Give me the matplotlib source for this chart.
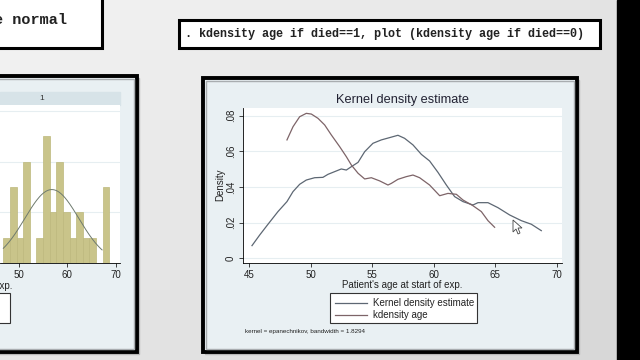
import numpy as np
import matplotlib.pyplot as plt
from matplotlib.patches import Rectangle, Polygon

plt.rcParams['font.family'] = ['Liberation Sans', 'DejaVu Sans']

# kdensity age if died==1  (first curve, "Kernel density estimate")
age1 = [45.24, 45.87, 46.54, 47.35, 48.08, 48.57, 49.11, 49.65, 50.33, 51.0, 51.41,
        51.95, 52.49, 52.90, 53.31, 53.85, 54.39, 55.06, 55.74, 56.42, 57.09, 57.63,
        58.31, 58.99, 59.66, 60.34, 61.02, 61.69, 62.37, 63.18, 63.59, 64.40, 65.21,
        66.16, 67.11, 67.92, 68.73]
dens1 = [0.0071, 0.0131, 0.0191, 0.0262, 0.0318, 0.0374, 0.0415, 0.0439, 0.0452, 0.0454, 0.0471,
         0.0486, 0.0501, 0.0495, 0.0514, 0.0538, 0.0598, 0.0645, 0.0664, 0.0677, 0.0690, 0.0673,
         0.0636, 0.0583, 0.0546, 0.0482, 0.0411, 0.0346, 0.0318, 0.0299, 0.0312, 0.0312, 0.0284,
         0.0243, 0.0211, 0.0191, 0.0155]

# kdensity age if died==0  (second curve, "kdensity age")
age0 = [48.08, 48.57, 49.11, 49.65, 50.06, 50.60, 51.14, 51.68, 52.36, 52.90, 53.31,
        53.85, 54.39, 54.93, 55.61, 56.28, 56.55, 57.09, 57.77, 58.31, 58.85, 59.66,
        60.48, 61.15, 61.83, 62.37, 63.18, 63.86, 64.40, 64.94]
dens0 = [0.0664, 0.0738, 0.0794, 0.0813, 0.0809, 0.0785, 0.0748, 0.0692, 0.0626, 0.0570, 0.0523,
         0.0477, 0.0445, 0.0452, 0.0434, 0.0411, 0.0420, 0.0443, 0.0458, 0.0467, 0.0452, 0.0411,
         0.0351, 0.0364, 0.0359, 0.0327, 0.0295, 0.0262, 0.0211, 0.0174]

# histogram panel "1" (cut off at left edge of slide)
bin_left = [46.76, 48.13, 49.50, 50.87, 52.24, 53.61, 54.98, 56.35, 57.72, 59.09, 60.46,
            61.83, 63.20, 64.57, 65.94, 67.31]
bin_count = [1, 3, 1, 4, 0, 1, 5, 2, 4, 2, 1, 2, 1, 1, 0, 3]
bin_width = 1.37
norm_mean, norm_sd, norm_peak = 56.8, 5.6, 2.9

legend_labels = ["Kernel density estimate", "kdensity age"]
yticks = [0, 0.02, 0.04, 0.06, 0.08]
ytick_labels = ["0", ".02", ".04", ".06", ".08"]

W, H = 640, 360
fig = plt.figure(figsize=(6.4, 3.6), dpi=100)

def fr(x0, y0, x1, y1):
    # pixel box -> figure fraction rect
    return [x0 / W, 1 - y1 / H, (x1 - x0) / W, (y1 - y0) / H]

# slide background in pixel coords
bg = fig.add_axes([0, 0, 1, 1], zorder=0)
bg.set_xlim(0, W)
bg.set_ylim(H, 0)
bg.axis('off')
gx, gy = np.meshgrid(np.linspace(0, 1, 64), np.linspace(0, 1, 36))
grad = 0.95 - 0.05 * gy - 0.06 * gx
bg.imshow(grad, cmap='gray', vmin=0, vmax=1, extent=[0, W, H, 0], aspect='auto')
bg.add_patch(Rectangle((617, 0), 30, H, color='black'))

# top boxes with Stata commands
bg.add_patch(Rectangle((-10, -10), 112, 58, facecolor='white', edgecolor='black', lw=2.2))
bg.text(-6, 20, "e normal", family='Liberation Mono', weight='bold', fontsize=11,
        va='center', ha='left', color='#222222')
bg.add_patch(Rectangle((179, 20), 421, 28, facecolor='white', edgecolor='black', lw=2.2))
bg.text(185, 34, ". kdensity age if died==1, plot (kdensity age if died==0)",
        family='Liberation Mono', weight='bold', fontsize=8.45, va='center', ha='left',
        color='#222222')

# graph windows
for x0, y0, x1, y1 in [(-20, 76, 137, 352), (203, 78, 577, 352)]:
    bg.add_patch(Rectangle((x0 + 2, y0 + 2), x1 - x0, y1 - y0, color='#b8b8b8'))
    bg.add_patch(Rectangle((x0, y0), x1 - x0, y1 - y0, facecolor='#e9f0f3',
                           edgecolor='black', lw=2.8))
    bg.add_patch(Rectangle((x0 + 3, y0 + 3), x1 - x0 - 6, y1 - y0 - 6, facecolor='none',
                           edgecolor='#a9adb0', lw=1))

# left panel: header strip and bits that stick out
bg.add_patch(Rectangle((0, 92), 120, 13, color='#d7e3e8'))
bg.text(42, 98.5, "1", fontsize=6, ha='center', va='center', color='#333333')
bg.text(12, 286, "Patient's age at start of exp.", fontsize=7, ha='right', va='center',
        color='#222222')
bg.add_patch(Rectangle((-20, 293), 30, 30, facecolor='white', edgecolor='#333333', lw=0.8))

axh = fig.add_axes(fr(0, 105, 120, 263), zorder=1)
axh.bar(bin_left, bin_count, width=bin_width, align='edge', color='#c9c48a',
        edgecolor='#bdb87c', lw=0.5, zorder=2)
xs = np.linspace(46.76, 67.2, 200)
axh.plot(xs, norm_peak * np.exp(-0.5 * ((xs - norm_mean) / norm_sd) ** 2),
         color='#6e7a6e', lw=0.7, zorder=3)
axh.set_xlim(46.07, 70.91)
axh.set_ylim(0, 6.24)
axh.set_yticks([2, 4, 6])
axh.yaxis.grid(True, color='#e6eef1', lw=0.8)
axh.set_axisbelow(True)
axh.tick_params(axis='y', left=False, labelleft=False)
axh.set_xticks([50, 60, 70])
axh.tick_params(axis='x', length=3, width=0.6, pad=2, labelsize=7, colors='#222222')
for s in ['top', 'right', 'left']:
    axh.spines[s].set_visible(False)
axh.spines['bottom'].set_linewidth(0.6)

# right panel: kernel density plot
ax = fig.add_axes(fr(243, 108, 562, 263), zorder=1)
l1, = ax.plot(age1, dens1, color='#5d6773', lw=0.9)
l0, = ax.plot(age0, dens0, color='#7d6468', lw=0.9)
ax.set_xlim(44.51, 70.41)
ax.set_ylim(-0.00264, 0.0843)
ax.set_xticks([45, 50, 55, 60, 65, 70])
ax.set_yticks(yticks)
ax.set_yticklabels(ytick_labels, rotation=90, va='center')
ax.yaxis.grid(True, color='#e6eef1', lw=0.8)
ax.set_axisbelow(True)
ax.tick_params(length=3, width=0.6, pad=2, labelsize=7, colors='#222222')
for s in ['top', 'right']:
    ax.spines[s].set_visible(False)
for s in ['left', 'bottom']:
    ax.spines[s].set_linewidth(0.6)

bg.text(402, 100, "Kernel density estimate", fontsize=9.2, ha='center', va='center',
        color='#222233')
bg.text(402, 285, "Patient's age at start of exp.", fontsize=7, ha='center',
        va='center', color='#222222')
bg.text(220, 185, "Density", fontsize=7, rotation=90, ha='center', va='center',
        color='#222222')

# legend drawn as a box like Stata's
bg.add_patch(Rectangle((330, 293), 147, 30, facecolor='white', edgecolor='#333333',
                       lw=0.8, zorder=2))
for i, (lab, ln) in enumerate(zip(legend_labels, [l1, l0])):
    yy = 303 + 11.5 * i
    bg.plot([335, 367], [yy, yy], color=ln.get_color(), lw=0.9, zorder=3)
    bg.text(373, yy, lab, fontsize=7, ha='left', va='center', color='#222222', zorder=3)
bg.text(245, 332, "kernel = epanechnikov, bandwidth = 1.8294", fontsize=4.5, ha='left',
        va='center', color='#222222')

# mouse pointer
cur = fig.add_axes([0, 0, 1, 1], zorder=5)
cur.set_xlim(0, W)
cur.set_ylim(H, 0)
cur.axis('off')
cur.add_patch(Polygon([[513, 220], [513, 232], [516, 229], [518, 234], [520, 233],
                       [518, 228], [522, 228]], closed=True, facecolor='white',
                      edgecolor='#444444', lw=0.6))

fig.savefig("out.png", dpi=100)
